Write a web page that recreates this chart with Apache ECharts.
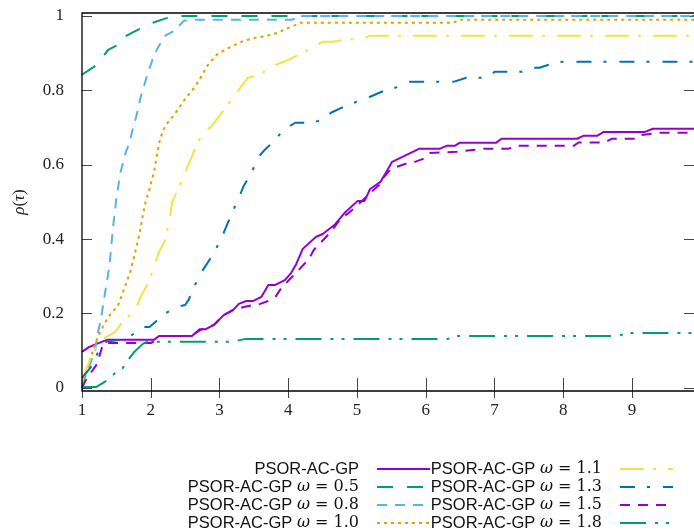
<!DOCTYPE html>
<html>
<head>
<meta charset="utf-8">
<script src="https://cdn.jsdelivr.net/npm/echarts@6/dist/echarts.min.js"></script>
<style>
html,body{margin:0;padding:0;background:#fff;}
#chart{width:694px;height:531px;}
</style>
</head>
<body>
<div id="chart"></div>
<script>
// ---- data ----
const seriesNames = [
  'PSOR-AC-GP',
  'PSOR-AC-GP ω = 0.5',
  'PSOR-AC-GP ω = 0.8',
  'PSOR-AC-GP ω = 1.0',
  'PSOR-AC-GP ω = 1.1',
  'PSOR-AC-GP ω = 1.3',
  'PSOR-AC-GP ω = 1.5',
  'PSOR-AC-GP ω = 1.8'
];
const xTicks = [1, 2, 3, 4, 5, 6, 7, 8, 9];
const yTicks = [0, 0.2, 0.4, 0.6, 0.8, 1];

const baseX = [1, 1.1, 1.23, 1.37, 2.05, 2.12, 2.6, 2.71, 2.8, 2.92, 3.06, 3.2, 3.28, 3.39, 3.49, 3.61, 3.71, 3.81, 3.95, 4.04, 4.11, 4.21, 4.40, 4.50, 4.67, 4.82, 5.01, 5.11, 5.19, 5.34, 5.41, 5.51, 5.90, 6.20, 6.30, 6.42, 6.49, 7.02, 7.10, 8.20, 8.29, 8.49, 8.58, 9.18, 9.30, 10];
const baseY = [0.097, 0.11, 0.12, 0.13, 0.13, 0.14, 0.14, 0.158, 0.158, 0.17, 0.196, 0.21, 0.226, 0.234, 0.234, 0.245, 0.277, 0.277, 0.29, 0.309, 0.331, 0.374, 0.406, 0.414, 0.438, 0.471, 0.503, 0.503, 0.535, 0.554, 0.576, 0.608, 0.643, 0.643, 0.651, 0.651, 0.659, 0.659, 0.67, 0.67, 0.678, 0.678, 0.688, 0.688, 0.697, 0.697];

const w05X = [1, 1.22, 1.38, 1.52, 1.57, 1.76, 2.0, 2.24, 2.31, 10];
const w05Y = [0.842, 0.869, 0.909, 0.922, 0.94, 0.958, 0.98, 0.995, 1.0, 1.0];

const w08X = [1, 1.09, 1.19, 1.22, 1.27, 1.33, 1.40, 1.45, 1.50, 1.56, 1.63, 1.69, 1.73, 1.81, 1.85, 1.95, 2.05, 2.12, 2.21, 2.34, 2.48, 2.63, 4.05, 4.21, 10];
const w08Y = [0.01, 0.05, 0.10, 0.14, 0.18, 0.25, 0.33, 0.43, 0.51, 0.58, 0.63, 0.66, 0.69, 0.745, 0.78, 0.842, 0.896, 0.92, 0.947, 0.96, 0.987, 0.99, 0.99, 1.0, 1.0];

const w10X = [1, 1.09, 1.16, 1.23, 1.33, 1.42, 1.52, 1.59, 1.64, 1.71, 1.78, 1.84, 1.88, 1.93, 1.98, 2.05, 2.10, 2.14, 2.21, 2.34, 2.48, 2.63, 2.70, 2.82, 2.96, 3.13, 3.35, 3.51, 3.67, 3.85, 4.0, 4.11, 4.18, 6.4, 6.5, 10];
const w10Y = [0.0, 0.062, 0.10, 0.137, 0.175, 0.2, 0.22, 0.255, 0.28, 0.317, 0.37, 0.417, 0.46, 0.505, 0.533, 0.584, 0.637, 0.672, 0.705, 0.734, 0.772, 0.807, 0.826, 0.866, 0.896, 0.914, 0.933, 0.941, 0.946, 0.955, 0.968, 0.976, 0.982, 0.982, 0.99, 0.99];

const w11X = [1, 1.13, 1.23, 1.35, 1.48, 1.56, 1.66, 1.78, 1.85, 1.95, 2.05, 2.12, 2.20, 2.27, 2.31, 2.34, 2.48, 2.63, 2.74, 2.89, 3.01, 3.18, 3.41, 3.54, 3.68, 3.82, 4.0, 4.29, 4.50, 4.65, 4.82, 5.1, 5.19, 10];
const w11Y = [0.02, 0.083, 0.12, 0.137, 0.15, 0.17, 0.19, 0.21, 0.245, 0.277, 0.326, 0.366, 0.393, 0.447, 0.5, 0.511, 0.57, 0.637, 0.68, 0.705, 0.734, 0.777, 0.834, 0.839, 0.853, 0.869, 0.882, 0.909, 0.931, 0.931, 0.936, 0.939, 0.947, 0.947];

const w13X = [1, 1.13, 1.2, 1.27, 1.35, 1.55, 1.71, 1.88, 1.98, 2.05, 2.21, 2.38, 2.5, 2.55, 2.63, 2.74, 2.93, 3.06, 3.18, 3.29, 3.35, 3.45, 3.56, 3.64, 3.81, 3.93, 4.10, 4.31, 4.50, 4.62, 4.83, 5.03, 5.19, 5.39, 5.61, 5.77, 6.4, 6.59, 6.9, 7.0, 7.4, 7.5, 7.65, 7.79, 7.99, 10];
const w13Y = [0.027, 0.056, 0.083, 0.11, 0.124, 0.13, 0.14, 0.164, 0.164, 0.175, 0.2, 0.218, 0.223, 0.237, 0.272, 0.312, 0.366, 0.417, 0.47, 0.515, 0.543, 0.573, 0.619, 0.637, 0.667, 0.694, 0.713, 0.713, 0.72, 0.74, 0.758, 0.772, 0.783, 0.799, 0.81, 0.823, 0.823, 0.834, 0.834, 0.85, 0.85, 0.861, 0.861, 0.869, 0.877, 0.877];

const w15X = [1, 1.05, 1.22, 1.30, 1.37, 2.0, 2.1, 2.15, 2.6, 2.71, 2.92, 3.06, 3.2, 3.4, 3.59, 3.71, 3.82, 3.9, 4.14, 4.3, 4.37, 4.62, 4.76, 4.86, 5.0, 5.19, 5.32, 5.39, 5.5, 5.71, 5.84, 5.96, 6.06, 6.45, 6.84, 7.2, 7.3, 8.15, 8.22, 8.6, 8.7, 9.05, 9.14, 9.4, 10];
const w15Y = [0.0, 0.02, 0.065, 0.115, 0.121, 0.121, 0.13, 0.14, 0.14, 0.155, 0.17, 0.196, 0.21, 0.22, 0.226, 0.234, 0.247, 0.269, 0.315, 0.347, 0.371, 0.42, 0.455, 0.468, 0.49, 0.524, 0.546, 0.567, 0.59, 0.603, 0.608, 0.616, 0.632, 0.635, 0.643, 0.643, 0.651, 0.651, 0.66, 0.66, 0.67, 0.67, 0.68, 0.686, 0.686];

const w18X = [1, 1.21, 1.36, 1.48, 1.59, 1.67, 1.76, 1.88, 1.94, 3.18, 3.38, 6.32, 6.46, 8.81, 8.91, 10];
const w18Y = [0.003, 0.003, 0.02, 0.04, 0.053, 0.075, 0.097, 0.118, 0.124, 0.124, 0.132, 0.132, 0.14, 0.14, 0.148, 0.148];

const seriesX = [baseX, w05X, w08X, w10X, w11X, w13X, w15X, w18X];
const seriesY = [baseY, w05Y, w08Y, w10Y, w11Y, w13Y, w15Y, w18Y];

// ---- styles ----
const colors = ['#9400D3', '#009E73', '#56B4E9', '#E69F00', '#F0E442', '#0072B2', '#9400D3', '#009E73'];
const dashes = ['solid', [16, 14], [10, 8], [3, 4], [24, 9, 3, 12], [15, 12, 3, 13], [10, 8], [26, 9, 3, 8, 3, 9]];

function zip(xs, ys) { return xs.map((x, i) => [x, ys[i]]); }

const serif = 'Liberation Serif';
const richLegend = {
  a: { fontFamily: 'Liberation Sans', fontSize: 16.5, color: '#111' },
  w: { fontFamily: 'DejaVu Serif', fontStyle: 'italic', fontSize: 16, color: '#111' },
  b: { fontFamily: 'DejaVu Serif', fontSize: 16, color: '#111' }
};
function legendFmt(name) {
  const m = name.match(/^(PSOR-AC-GP) ω (= .*)$/);
  if (!m) return '{a|' + name + '}';
  return '{a|' + m[1] + ' }{w|ω}{b| ' + m[2] + '}';
}

const chart = echarts.init(document.getElementById('chart'), null, { renderer: 'canvas' });

const gridLeft = 82, gridTop = 16, xMax = 9.9;
const unitX = 69.4;
const legendCommon = {
  orient: 'vertical', top: 455, height: 200,
  align: 'right', itemWidth: 53, itemHeight: 14, itemGap: 0,
  itemStyle: { opacity: 0 },
  formatter: legendFmt
};
const option = {
  animation: false,
  backgroundColor: '#fff',
  grid: { left: gridLeft, top: gridTop, width: (xMax - 1) * unitX, height: 372 },
  xAxis: [
    {
      type: 'value', min: 1, max: xMax, interval: 1, position: 'bottom', offset: 3,
      axisLine: { show: false },
      axisTick: { show: true, inside: true, length: 10, lineStyle: { color: '#444', width: 1 } },
      axisLabel: { margin: 11, fontFamily: serif, fontSize: 17, color: '#222', showMaxLabel: false,
        formatter: v => (xTicks.indexOf(v) >= 0 ? String(v) : '') },
      splitLine: { show: false }
    },
    {
      type: 'value', min: 1, max: xMax, interval: 1, position: 'top', offset: 3,
      axisLine: { show: false },
      axisTick: { show: true, inside: true, length: 10, lineStyle: { color: '#444', width: 1 } },
      axisLabel: { show: false },
      splitLine: { show: false }
    }
  ],
  yAxis: [
    {
      type: 'value', min: 0, max: 1, interval: 0.2, position: 'left',
      name: '{i|ρ}{r|(}{i|τ}{r|)}', nameLocation: 'middle', nameGap: 54,
      nameTextStyle: { rich: {
        i: { fontFamily: serif, fontStyle: 'italic', fontSize: 17, color: '#222' },
        r: { fontFamily: serif, fontSize: 17, color: '#222' } } },
      axisLine: { show: false },
      axisTick: { show: true, inside: true, length: 10, lineStyle: { color: '#444', width: 1 } },
      axisLabel: { margin: 18, fontFamily: serif, fontSize: 17, color: '#222',
        formatter: v => { const t = yTicks.find(k => Math.abs(k - v) < 1e-9); return t === undefined ? '' : String(+t.toFixed(1)); } },
      splitLine: { show: false }
    },
    {
      type: 'value', min: 0, max: 1, interval: 0.2, position: 'right',
      axisLine: { show: false },
      axisTick: { show: true, inside: true, length: 10, lineStyle: { color: '#444', width: 1 } },
      axisLabel: { show: false },
      splitLine: { show: false }
    }
  ],
  legend: [
    Object.assign({}, legendCommon, {
      data: seriesNames.slice(0, 4), right: 258,
      textStyle: { width: 180, lineHeight: 18, padding: [0, 13, 0, 0], rich: richLegend }
    }),
    Object.assign({}, legendCommon, {
      data: seriesNames.slice(4), right: 15,
      textStyle: { width: 176, lineHeight: 18, padding: [0, 13, 0, 0], rich: richLegend }
    })
  ],
  graphic: [
    { type: 'rect', z: 100, silent: true,
      shape: { x: gridLeft, y: 13, width: (xMax - 1) * unitX, height: 378 },
      style: { fill: 'none', stroke: '#000', lineWidth: 1.3 } }
  ],
  series: seriesNames.map((name, i) => ({
    name: name,
    type: 'line',
    xAxisIndex: 0,
    yAxisIndex: 0,
    symbol: 'none',
    showSymbol: false,
    smooth: false,
    data: zip(seriesX[i], seriesY[i]),
    lineStyle: { color: colors[i], width: 2, type: dashes[i] },
    itemStyle: { color: colors[i] },
    z: 2 + i
  }))
};
chart.setOption(option);
</script>
</body>
</html>
